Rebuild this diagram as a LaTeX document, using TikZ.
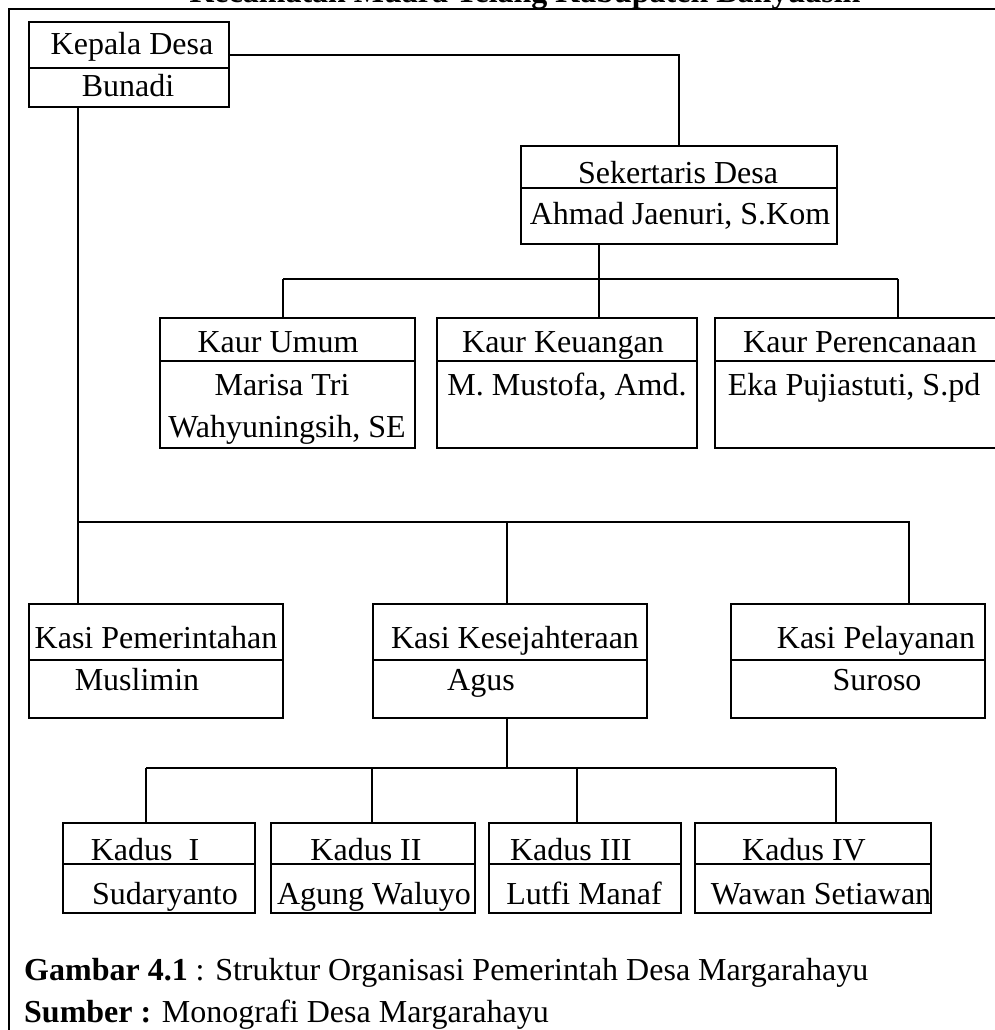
\documentclass[tikz,border=0pt]{standalone}
\usepackage{fontspec}
\setmainfont{Liberation Serif}
\tikzset{
  orgbox/.style={draw, line width=1.6pt, inner sep=0pt, outer sep=0pt, anchor=north west},
  lbl/.style={inner sep=0pt, anchor=base},
  conn/.style={line width=1.6pt},
  divline/.style={line width=1.6pt},
  frameline/.style={line width=2pt},
}
\newcommand\mkorgbox[6]{%
  \node[orgbox, minimum width={(#4-#2)*1pt}, minimum height={(#5-#3)*1pt}] (#1) at (#2,#3) {};
  \draw[divline] (#2,#6) -- (#4,#6);
}
\begin{document}
\begin{tikzpicture}[x=1pt, y=-1pt, font=\fontsize{32}{38}\selectfont]
\clip (0,0) rectangle (995,1030);
% cut-off title
\node[lbl, font=\fontsize{32}{38}\selectfont\bfseries] (title) at (525,3) {Kecamatan Muara Telang Kabupaten Banyuasin};
% frame
\draw[frameline] (1010,9) -- (9,9) -- (9,1045);

% Kepala Desa
\mkorgbox{kepala}{29}{22}{229}{107}{68}
\node[lbl] (kepalaT) at (132,55) {Kepala Desa};
\node[lbl] (kepalaN) at (128,97) {Bunadi};

% Sekertaris
\mkorgbox{sek}{521}{146}{837}{244}{188}
\node[lbl] (sekT) at (678,183) {Sekertaris Desa};
\node[lbl] (sekN) at (680,224) {Ahmad Jaenuri, S.Kom};

% Kaur
\mkorgbox{kumum}{160}{318}{415}{448}{361}
\node[lbl] (kumumT) at (278,352) {Kaur Umum};
\node[lbl] (kumumN1) at (282,395) {Marisa Tri};
\node[lbl] (kumumN2) at (287,437) {Wahyuningsih, SE};

\mkorgbox{kkeu}{437}{318}{697}{448}{361}
\node[lbl] (kkeuT) at (563,352) {Kaur Keuangan};
\node[lbl] (kkeuN) at (567,395) {M. Mustofa, Amd.};

\mkorgbox{kren}{715}{318}{1005}{448}{361}
\node[lbl] (krenT) at (860,352) {Kaur Perencanaan};
\node[lbl] (krenN) at (854,395) {Eka Pujiastuti, S.pd};

% Kasi
\mkorgbox{kpem}{29}{604}{283}{718}{660}
\node[lbl] (kpemT) at (156,648) {Kasi Pemerintahan};
\node[lbl] (kpemN) at (137,690) {Muslimin};

\mkorgbox{kkes}{373}{604}{647}{718}{660}
\node[lbl] (kkesT) at (515,648) {Kasi Kesejahteraan};
\node[lbl] (kkesN) at (481,690) {Agus};

\mkorgbox{kpel}{731}{604}{985}{718}{660}
\node[lbl] (kpelT) at (876,648) {Kasi Pelayanan};
\node[lbl] (kpelN) at (877,690) {Suroso};

% Kadus
\mkorgbox{kd1}{63}{823}{255}{913}{864}
\node[lbl] (kd1T) at (145,860) {Kadus\ \ I};
\node[lbl] (kd1N) at (165,904) {Sudaryanto};

\mkorgbox{kd2}{271}{823}{475}{913}{864}
\node[lbl] (kd2T) at (366,860) {Kadus II};
\node[lbl] (kd2N) at (374,904) {Agung Waluyo};

\mkorgbox{kd3}{489}{823}{681}{913}{864}
\node[lbl] (kd3T) at (571,860) {Kadus III};
\node[lbl] (kd3N) at (584,904) {Lutfi Manaf};

\mkorgbox{kd4}{695}{823}{931}{913}{864}
\node[lbl] (kd4T) at (804,860) {Kadus IV};
\node[lbl] (kd4N) at (821,904) {Wawan Setiawan};

% connectors: Kepala -> Sekertaris
\draw[conn] (kepala.east |- kepalaT.base) -| (sek.north);
% Sekertaris -> Kaur
\coordinate (sbus) at (599,279);
\coordinate (sb1) at (283,279);
\coordinate (sb3) at (898,279);
\draw[conn] (sbus |- sek.south) -- (sbus);
\draw[conn] (sb1) -- (sb3);
\draw[conn] (sb1) -- (sb1 |- kumum.north);
\draw[conn] (sbus) -- (sbus |- kkeu.north);
\draw[conn] (sb3) -- (sb3 |- kren.north);
% Kepala -> Kasi
\coordinate (t1) at (78,522);
\coordinate (t2) at (507,522);
\coordinate (t3) at (909,522);
\draw[conn] (t1 |- kepala.south) -- (t1 |- kpem.north);
\draw[conn] (t1) -- (t3) -- (t3 |- kpel.north);
\draw[conn] (t2) -- (t2 |- kkes.north);
% Kasi Kesejahteraan -> Kadus
\coordinate (k0) at (507,768);
\coordinate (k1) at (146,768);
\coordinate (k2) at (372,768);
\coordinate (k3) at (577,768);
\coordinate (k4) at (836,768);
\draw[conn] (k0 |- kkes.south) -- (k0);
\draw[conn] (k1) -- (k4);
\draw[conn] (k1) -- (k1 |- kd1.north);
\draw[conn] (k2) -- (k2 |- kd2.north);
\draw[conn] (k3) -- (k3 |- kd3.north);
\draw[conn] (k4) -- (k4 |- kd4.north);

% caption
\node[lbl, anchor=base west] (cap1) at (24,980) {\textbf{Gambar 4.1} : Struktur Organisasi Pemerintah Desa Margarahayu};
\node[lbl, anchor=base west] (cap2) at (24,1022) {\textbf{Sumber :} Monografi Desa Margarahayu};
\end{tikzpicture}
\end{document}
